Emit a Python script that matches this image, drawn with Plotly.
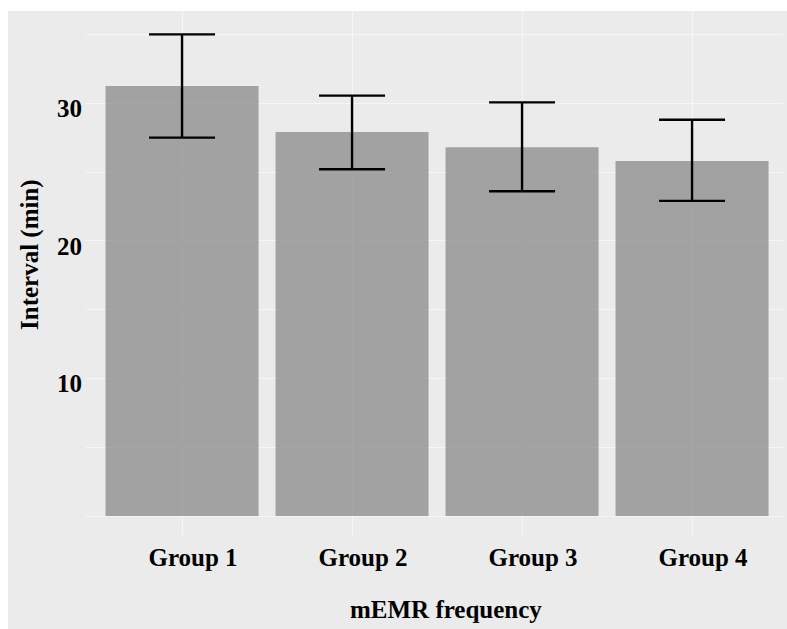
import plotly.graph_objects as go

groups = ["Group 1", "Group 2", "Group 3", "Group 4"]
means = [31.25, 27.9, 26.8, 25.8]
upper = [35.0, 30.55, 30.06, 28.8]
lower = [27.5, 25.2, 23.6, 22.9]
y_tickvals = [0, 5, 10, 15, 20, 25, 30, 35]
y_ticktext = ["", "", "10", "", "20", "", "30", ""]

err_plus = [u - m for u, m in zip(upper, means)]
err_minus = [m - l for m, l in zip(means, lower)]

W, H = 787, 629
ML, MR, MT, MB = 86, 4, 11, 94
PW, PH = W - ML - MR, H - MT - MB

def px_x(p):
    return (p - ML) / PW

def px_y(p):
    return (H - MB - p) / PH

FONT = "Liberation Serif"
BG = "#EBEBEB"
GRID = "#F6F6F6"

fig = go.Figure()
fig.add_trace(go.Bar(
    x=groups, y=means, width=0.9,
    marker=dict(color="rgba(127,127,127,0.68)", line=dict(width=0)),
    error_y=dict(type="data", array=err_plus, arrayminus=err_minus,
                 color="black", thickness=2.4, width=33),
    showlegend=False,
))

fig.update_layout(
    width=W, height=H,
    margin=dict(l=ML, r=MR, t=MT, b=MB, pad=0),
    paper_bgcolor=BG, plot_bgcolor=BG,
    font=dict(family=FONT, size=25, color="black", weight="bold"),
    xaxis=dict(range=[-0.565, 3.535], showgrid=True, gridcolor=GRID, gridwidth=1,
               zeroline=False, showline=False, ticks="", ticklabelshift=11,
               ticklabelstandoff=5,
               tickfont=dict(family=FONT, size=25, color="black", weight="bold")),
    yaxis=dict(range=[-1.38, 36.70], tickvals=y_tickvals, ticktext=y_ticktext,
               showgrid=True, gridcolor=GRID, gridwidth=1, zeroline=False,
               showline=False, ticks="", ticklabelstandoff=3, ticklabelshift=5,
               tickfont=dict(family=FONT, size=25, color="black", weight="bold")),
    shapes=[
        dict(type="rect", xref="paper", yref="paper",
             x0=px_x(0), x1=px_x(8), y0=px_y(H), y1=px_y(0),
             fillcolor="white", line=dict(width=0), layer="below"),
        dict(type="rect", xref="paper", yref="paper",
             x0=px_x(0), x1=px_x(W), y0=px_y(11), y1=px_y(0),
             fillcolor="white", line=dict(width=0), layer="below"),
    ],
    annotations=[
        dict(text="mEMR frequency", xref="paper", yref="paper",
             x=px_x(446), y=px_y(609), xanchor="center", yanchor="middle",
             showarrow=False,
             font=dict(family=FONT, size=25, color="black", weight="bold")),
        dict(text="Interval (min)", xref="paper", yref="paper",
             x=px_x(30), y=px_y(255), xanchor="center", yanchor="middle",
             textangle=-90, showarrow=False,
             font=dict(family=FONT, size=25, color="black", weight="bold")),
    ],
)

fig.write_html("out.html", config={"displayModeBar": False},
               post_script="document.body.style.margin='0';document.body.style.overflow='hidden';")
